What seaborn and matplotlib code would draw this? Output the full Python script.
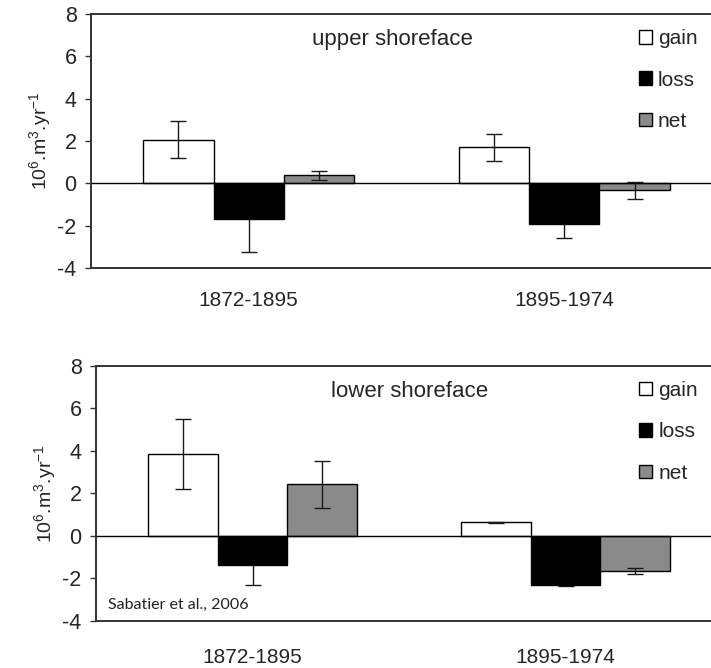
import matplotlib
matplotlib.use("Agg")
import matplotlib.pyplot as plt
import seaborn as sns
import pandas as pd

# ---- data ----
periods = ["1872-1895", "1895-1974"]
kinds = ["gain", "loss", "net"]

upper_gain = [2.06, 1.70]
upper_loss = [-1.67, -1.93]
upper_net = [0.38, -0.33]
upper_gain_err = [0.88, 0.63]
upper_loss_err = [1.57, 0.63]
upper_net_err = [0.20, 0.39]

lower_gain = [3.84, 0.63]
lower_loss = [-1.38, -2.32]
lower_net = [2.42, -1.64]
lower_gain_err = [1.65, 0.04]
lower_loss_err = [0.94, 0.04]
lower_net_err = [1.11, 0.14]

y_ticks = [-4, -2, 0, 2, 4, 6, 8]
panel_titles = ["upper shoreface", "lower shoreface"]
source_text = "Sabatier et al., 2006"
ylabel_text = r"$10^{6}$.m$^{3}$.yr$^{-1}$"

colors = {"gain": "#ffffff", "loss": "#000000", "net": "#8a8a8a"}

sns.set_style("white")
plt.rcParams["font.family"] = ["Liberation Sans", "DejaVu Sans"]
plt.rcParams["mathtext.default"] = "regular"
plt.rcParams["axes.unicode_minus"] = False

W, H = 711, 668
fig = plt.figure(figsize=(W / 100, H / 100), dpi=100)


def frac(left, top, right, bottom):
    return [left / W, 1 - bottom / H, (right - left) / W, (bottom - top) / H]


panels = [
    dict(rect=frac(91, 14, 722, 268), vals=(upper_gain, upper_loss, upper_net),
         errs=(upper_gain_err, upper_loss_err, upper_net_err),
         title=panel_titles[0], tx=0.478, xpad=16.5, source=False),
    dict(rect=frac(96, 365.7, 722, 621), vals=(lower_gain, lower_loss, lower_net),
         errs=(lower_gain_err, lower_loss_err, lower_net_err),
         title=panel_titles[1], tx=0.501, xpad=19.5, source=True),
]

for p in panels:
    ax = fig.add_axes(p["rect"])
    rows = []
    for k, v in zip(kinds, p["vals"]):
        for per, val in zip(periods, v):
            rows.append({"period": per, "kind": k, "value": val})
    df = pd.DataFrame(rows)
    sns.barplot(data=df, x="period", y="value", hue="kind", order=periods,
                hue_order=kinds, palette=colors, edgecolor="black",
                linewidth=1.0, width=0.67, gap=0, saturation=1,
                errorbar=None, ax=ax, zorder=2)
    # error bars at the bar centres (hidden inside the black bars)
    for cont, err, k in zip(ax.containers, p["errs"], kinds):
        xs = [b.get_x() + b.get_width() / 2 for b in cont]
        ys = [b.get_y() + b.get_height() for b in cont]
        z = 1.5 if k == "loss" else 3
        ax.errorbar(xs, ys, yerr=err, fmt="none", ecolor="#1a1a1a",
                    elinewidth=1.0, capsize=6.1, capthick=1.0, zorder=z)
    ax.axhline(0, color="black", lw=1.0, zorder=2.5)
    ax.set_xlim(-0.5, 1.5)
    ax.set_ylim(-4, 8)
    ax.set_yticks(y_ticks)
    ax.set_xlabel("")
    ax.set_ylabel(ylabel_text, fontsize=14, labelpad=3)
    ax.tick_params(axis="y", direction="out", length=4.3, width=1.0,
                   pad=6.0, labelsize=15.5, left=True, color="#333333")
    ax.tick_params(axis="x", length=0, pad=p["xpad"], labelsize=15)
    for s in ax.spines.values():
        s.set_color("#333333")
        s.set_linewidth(1.4)
    ax.text(p["tx"], 0.898, p["title"], transform=ax.transAxes,
            ha="center", va="center", fontsize=16)
    handles, labels = ax.get_legend_handles_labels()
    ax.legend(handles, labels, loc="upper left", bbox_to_anchor=(0.868, 0.94),
              bbox_transform=ax.transAxes, frameon=False, fontsize=15,
              handlelength=0.62, handleheight=0.62, handletextpad=0.3,
              labelspacing=1.07, borderpad=0, borderaxespad=0)
    if p["source"]:
        ax.text(0.019, 0.063, source_text, transform=ax.transAxes,
                ha="left", va="center", fontsize=11.5,
                family=["Lato", "DejaVu Sans"], color="#222222")

fig.savefig("out.png", dpi=100)
